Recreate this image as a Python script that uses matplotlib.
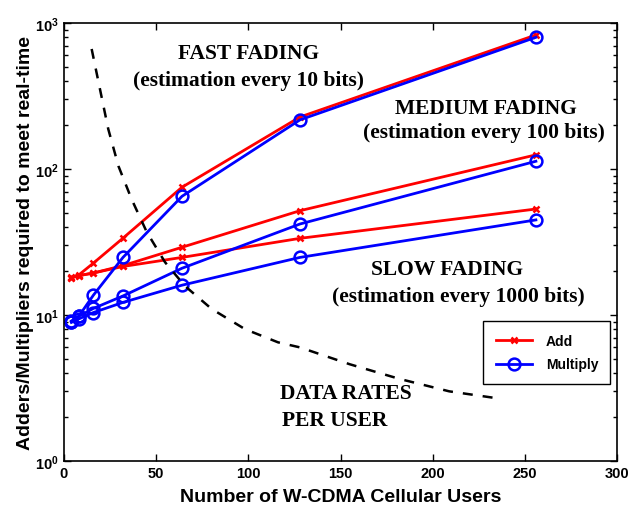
import matplotlib
matplotlib.use('Agg')
import matplotlib.pyplot as plt
from matplotlib.ticker import LogLocator, FixedLocator, NullFormatter
from matplotlib.lines import Line2D

plt.rcParams['font.family'] = ['Liberation Sans', 'DejaVu Sans']
plt.rcParams['font.weight'] = 'bold'
plt.rcParams['mathtext.fontset'] = 'custom'
plt.rcParams['mathtext.rm'] = 'Liberation Sans:bold'
plt.rcParams['mathtext.it'] = 'Liberation Sans:bold'
plt.rcParams['mathtext.bf'] = 'Liberation Sans:bold'

# ---- data ----
users = [4, 8, 16, 32, 64, 128, 256]
fast_add = [18.2, 18.8, 22.7, 33.6, 75, 227, 828]
fast_mult = [9.0, 9.8, 13.7, 24.8, 65, 217, 798]
medium_add = [18.0, 18.6, 19.4, 21.8, 29.1, 51.8, 125]
medium_mult = [9.1, 9.8, 11.1, 13.5, 20.9, 42, 113]
slow_add = [18.0, 18.6, 19.4, 21.5, 24.8, 33.5, 53.2]
slow_mult = [8.9, 9.4, 10.4, 12.2, 16.0, 24.8, 44.8]

rate_x = [15.0, 19.5, 24.0, 29.5, 36.7, 44.9, 54.8, 65.6, 80.1, 98.2, 116.1, 128, 155, 182, 209, 234]
rate_y = [664, 353, 188, 105, 62, 37, 23, 15.8, 11.0, 8.0, 6.5, 6.0, 4.6, 3.65, 3.0, 2.7]

x_ticks = [0, 50, 100, 150, 200, 250, 300]
y_ticks = [1, 10, 100, 1000]
y_tick_labels = ['$10^{0}$', '$10^{1}$', '$10^{2}$', '$10^{3}$']

annotations = [
    ("FAST FADING", 100, 620),
    ("(estimation every 10 bits)", 100, 405),
    ("MEDIUM FADING", 229, 262),
    ("(estimation every 100 bits)", 228, 178),
    ("SLOW FADING", 208, 20.8),
    ("(estimation every 1000 bits)", 214, 13.5),
    ("DATA RATES", 153, 2.9),
    ("PER USER", 147, 1.9),
]

# ---- figure ----
fig = plt.figure(figsize=(6.32, 5.10), dpi=100)
ax = fig.add_axes([64/632, 1-462/510, (617-64)/632, (462-24)/510])

red_kw = dict(color='#ff0000', lw=2, marker='x', ms=4.5, mew=1.8)
blue_kw = dict(color='#0000ff', lw=2, marker='o', ms=8.5, mew=1.8, mfc='none')

for ys in (fast_add, medium_add, slow_add):
    ax.plot(users, ys, **red_kw)
for ys in (fast_mult, medium_mult, slow_mult):
    ax.plot(users, ys, **blue_kw)

ax.plot(rate_x, rate_y, color='black', lw=1.8, ls=(0, (4, 4)))

ax.set_yscale('log')
ax.set_xlim(0, 300)
ax.set_ylim(1, 1000)
ax.xaxis.set_major_locator(FixedLocator(x_ticks))
ax.set_xticklabels([str(t) for t in x_ticks])
ax.yaxis.set_major_locator(FixedLocator(y_ticks))
ax.set_yticklabels(y_tick_labels)
ax.yaxis.set_minor_locator(LogLocator(base=10, subs=range(2, 10)))
ax.yaxis.set_minor_formatter(NullFormatter())

ax.tick_params(which='both', direction='in', top=True, right=True, labelsize=10.5, width=1)
ax.tick_params(which='major', length=5)
ax.tick_params(which='minor', length=3)
for lab in ax.get_xticklabels() + ax.get_yticklabels():
    lab.set_fontweight('bold')
for sp in ax.spines.values():
    sp.set_linewidth(1.2)

ax.set_xlabel('Number of W-CDMA Cellular Users', fontsize=14, fontweight='bold', labelpad=6)
ax.set_ylabel('Adders/Multipliers required to meet real-time', fontsize=14, fontweight='bold')
ax.yaxis.set_label_coords(-0.055, 0.5)

for txt, tx, ty in annotations:
    ax.text(tx, ty, txt, ha='center', va='center', fontsize=15.5, fontweight='bold',
            family=['Liberation Serif', 'DejaVu Serif'])

handles = [Line2D([], [], **red_kw), Line2D([], [], **blue_kw)]
leg = ax.legend(handles, ['Add', 'Multiply'], loc='lower left', bbox_to_anchor=(0.758, 0.176, 0.229, 0.141),
                mode='expand', borderaxespad=0, fancybox=False, edgecolor='black', framealpha=1,
                prop={'weight': 'bold', 'size': 10}, handlelength=2.6, handletextpad=1.0,
                borderpad=0.9, labelspacing=0.7)
leg.get_frame().set_linewidth(1)

fig.savefig('out.png', dpi=100)
